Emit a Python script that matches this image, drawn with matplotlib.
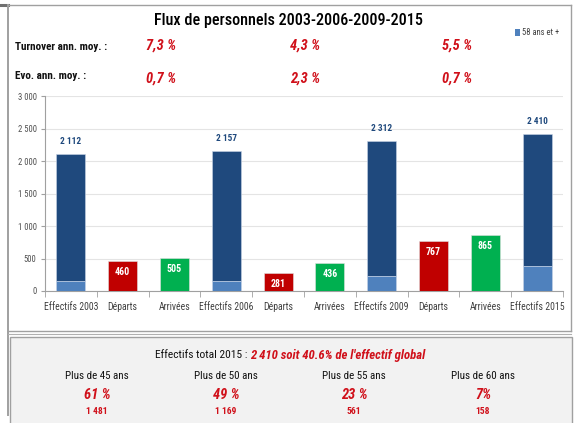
import matplotlib
matplotlib.use("Agg")
import matplotlib.pyplot as plt
from matplotlib import font_manager
from matplotlib.patches import Rectangle
from matplotlib.lines import Line2D
import numpy as np

flist = font_manager.fontManager.ttflist
names = {f.name for f in flist}
STRETCH = 'normal'
if 'Liberation Sans Narrow' in names:
    FONT, SCALE = 'Liberation Sans Narrow', 1.0
elif 'Roboto Condensed' in names:
    FONT, SCALE = 'Roboto Condensed', 0.95
elif any(f.name == 'DejaVu Sans' and str(f.stretch) in ('condensed', 'semi-condensed') for f in flist):
    FONT, SCALE, STRETCH = 'DejaVu Sans', 0.85, 'condensed'
else:
    FONT, SCALE = 'Liberation Sans', 0.88
plt.rcParams['font.family'] = [FONT, 'DejaVu Sans']
plt.rcParams['font.stretch'] = STRETCH

def fs(v):
    return v * SCALE

# ---- data ----
categories = ["Effectifs 2003", "Départs", "Arrivées", "Effectifs 2006", "Départs",
              "Arrivées", "Effectifs 2009", "Départs", "Arrivées", "Effectifs 2015"]
kinds = ["eff", "dep", "arr", "eff", "dep", "arr", "eff", "dep", "arr", "eff"]
values = [2112, 460, 505, 2157, 281, 436, 2312, 767, 865, 2410]
senior_58 = [154, 0, 0, 150, 0, 0, 231, 0, 0, 385]   # "58 ans et +" part of Effectifs bars
value_labels = ["2 112", "460", "505", "2 157", "281", "436", "2 312", "767", "865", "2 410"]
yticks = [0, 500, 1000, 1500, 2000, 2500, 3000]
ytick_labels = ["0", "500", "1 000", "1 500", "2 000", "2 500", "3 000"]
turnover = ["7,3 %", "4,3 %", "5,5 %"]
evolution = ["0,7 %", "2,3 %", "0,7 %"]
age_groups = ["Plus de 45 ans", "Plus de 50 ans", "Plus de 55 ans", "Plus de 60 ans"]
age_pct = ["61 %", "49 %", "23 %", "7%"]
age_counts = ["1 481", "1 169", "561", "158"]

W, H = 577, 423
fig = plt.figure(figsize=(W / 100, H / 100), dpi=100)

def fx(x): return x / W
def fy(y): return 1 - y / H

DARK = '#1F497D'
LIGHT = '#4F81BD'
RED = '#C00000'
GREEN = '#00B050'
TXTRED = '#D0101A'

# ---- frames ----
fig.add_artist(Line2D([fx(0), fx(8)], [fy(5), fy(5)], color='#707070', lw=2.2))
fig.add_artist(Line2D([fx(8), fx(571)], [fy(5), fy(5)], color='#a0a0a0', lw=1.0))
fig.add_artist(Line2D([fx(8), fx(8)], [fy(5), fy(415)], color='#a0a0a0', lw=1.4))
fig.add_artist(Line2D([fx(571), fx(571)], [fy(5), fy(331)], color='#a0a0a0', lw=1.0))
fig.add_artist(Line2D([fx(8), fx(571)], [fy(331), fy(331)], color='#a0a0a0', lw=1.0))
fig.add_artist(Line2D([fx(8), fx(571)], [fy(333.5), fy(333.5)], color='#b0b0b0', lw=0.8))
fig.add_artist(Rectangle((fx(9.5), fy(425)), fx(572) - fx(9.5), fy(337) - fy(425),
                         transform=fig.transFigure, facecolor='#f2f2f2',
                         edgecolor='#a0a0a0', lw=1.0))

# ---- axes ----
L, R, T, B = 45, 563, 96, 291
ax = fig.add_axes([fx(L), fy(B), fx(R) - fx(L), fy(T) - fy(B)])
x = np.arange(len(categories))
colors = {"eff": DARK, "dep": RED, "arr": GREEN}
bw = 0.56
for i, (k, v, s) in enumerate(zip(kinds, values, senior_58)):
    if k == "eff":
        ax.bar(i, v - s, bw, bottom=s, color=DARK, edgecolor='#c8d4e6', lw=0.4, zorder=3)
        ax.bar(i, s, bw, color=LIGHT, edgecolor='#c8d4e6', lw=0.4, zorder=3)
        ax.annotate(value_labels[i], (i, v), xytext=(0, 9), textcoords='offset points',
                    ha='center', va='center', fontsize=fs(7), fontweight='bold', color=DARK)
    else:
        ax.bar(i, v, bw, color=colors[k], edgecolor='#e0e0e0', lw=0.4, zorder=3)
        ax.annotate(value_labels[i], (i, v), xytext=(0, -8), textcoords='offset points',
                    ha='center', va='center', fontsize=fs(7.5), fontweight='bold', color='white')

ax.set_xlim(-0.5, len(categories) - 0.5)
ax.set_ylim(0, 3000)
ax.set_yticks(yticks)
ax.set_yticklabels(ytick_labels, fontsize=fs(6.5), color='#505050')
ax.set_xticks(x)
ax.set_xticklabels(categories, fontsize=fs(7.4), color='#404040')
ax.tick_params(axis='x', length=0, pad=8)
ax.set_xticks(np.arange(-0.5, len(categories)), minor=True)
ax.tick_params(axis='x', which='minor', length=4, color='#a0a0a0', direction='out')
ax.tick_params(axis='y', length=3, color='#a0a0a0', pad=3)
ax.grid(axis='y', color='#e4e4e4', lw=0.8, zorder=0)
for s in ['top', 'right']:
    ax.spines[s].set_visible(False)
ax.spines['left'].set_color('#a0a0a0')
ax.spines['bottom'].set_color('#a0a0a0')
ax.set_facecolor('none')

# ---- header texts ----
fig.text(fx(288), fy(21), "Flux de personnels 2003-2006-2009-2015", ha='center', va='center',
         fontsize=fs(12.2), color='black', fontweight='medium')
fig.text(fx(15), fy(47), "Turnover ann. moy. :", ha='left', va='center', fontsize=fs(8.4),
         fontweight='bold', color='#111111')
fig.text(fx(15), fy(76), "Evo. ann. moy. :", ha='left', va='center', fontsize=fs(8.4),
         fontweight='bold', color='#111111')
for xc, t, e in zip([161, 305, 457], turnover, evolution):
    fig.text(fx(xc), fy(46), t, ha='center', va='center', fontsize=fs(11), fontweight='bold',
             style='italic', color=TXTRED)
    fig.text(fx(xc), fy(79), e, ha='center', va='center', fontsize=fs(11), fontweight='bold',
             style='italic', color=TXTRED)

# legend
fig.add_artist(Rectangle((fx(515), fy(36)), 5 / W, 7 / H, transform=fig.transFigure,
                         facecolor=LIGHT, edgecolor='none'))
fig.text(fx(522), fy(32.5), "58 ans et +", ha='left', va='center', fontsize=fs(6.5), color='#404040')

# ---- bottom panel ----
t1 = fig.text(fx(155), fy(355), "Effectifs total 2015 : ", ha='left', va='center',
              fontsize=fs(8.7), color='#111111')
fig.canvas.draw()
bb = t1.get_window_extent()
fig.text(bb.x1 / fig.bbox.width, fy(355), "2 410 soit 40.6% de l'effectif global", ha='left',
         va='center', fontsize=fs(9.7), fontweight='bold', style='italic', color=TXTRED)
for xc, g, p, c in zip([97, 226, 354, 483], age_groups, age_pct, age_counts):
    fig.text(fx(xc), fy(376), g, ha='center', va='center', fontsize=fs(8.3), color='#111111')
    fig.text(fx(xc), fy(395), p, ha='center', va='center', fontsize=fs(11), fontweight='bold',
             style='italic', color=TXTRED)
    fig.text(fx(xc), fy(411), c, ha='center', va='center', fontsize=fs(7.2), fontweight='bold',
             color=TXTRED)

fig.savefig("out.png", dpi=100)
